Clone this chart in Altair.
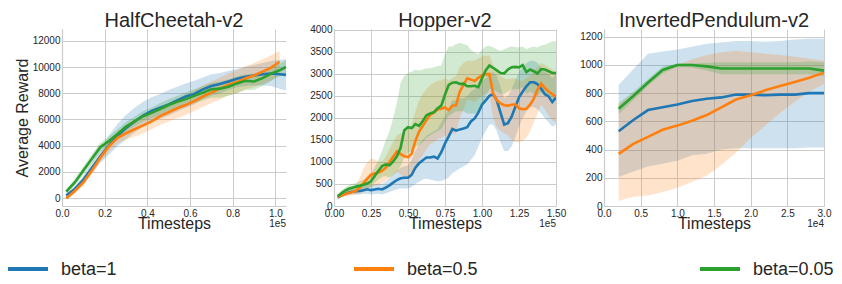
import altair as alt
import pandas as pd

FONT = "Liberation Sans"
TXT = "#262626"
SERIES = ["beta=1", "beta=0.5", "beta=0.05"]
COLORS = ["#1f77b4", "#ff7f0e", "#2ca02c"]

# ---------------- HalfCheetah-v2 ----------------
HC_T = [2000, 6000, 10000, 14000, 18000, 22000, 26000, 30000, 34000, 38000, 42000, 46000, 50000,
        54000, 58000, 62000, 66000, 70000, 74000, 78000, 82000, 86000, 90000, 94000, 98000, 102000, 105000]
HC_B_MEAN = [200, 700, 1400, 2300, 3200, 4000, 4750, 5350, 5850, 6300, 6650, 6900, 7150, 7450, 7750, 7950,
             8300, 8550, 8700, 8900, 9100, 9250, 9350, 9450, 9500, 9450, 9400]
HC_B_LO = [50, 500, 1100, 1900, 2700, 3300, 3950, 4500, 5000, 5450, 5800, 6050, 6300, 6600, 6900, 7150,
           7550, 7800, 8000, 8250, 8450, 8550, 8600, 8600, 8550, 8350, 8200]
HC_B_HI = [350, 900, 1700, 2700, 3800, 4800, 5650, 6350, 6900, 7350, 7700, 7950, 8250, 8500, 8750, 8950,
           9200, 9450, 9550, 9700, 9850, 10000, 10150, 10300, 10450, 10550, 10600]
HC_O_MEAN = [0, 550, 1200, 2100, 3100, 3950, 4600, 4950, 5250, 5550, 5850, 6250, 6550, 6850, 7100, 7400,
             7750, 8050, 8350, 8650, 8850, 9150, 9350, 9650, 9950, 10400]
HC_O_LO = [-150, 350, 950, 1800, 2750, 3550, 4150, 4450, 4700, 4950, 5250, 5600, 5850, 6100, 6350, 6650,
           6950, 7250, 7500, 7850, 8000, 8300, 8450, 8700, 8950, 9400]
HC_O_HI = [150, 750, 1450, 2400, 3450, 4350, 5050, 5450, 5800, 6150, 6500, 6900, 7250, 7600, 7900, 8200,
           8600, 8900, 9200, 9500, 9750, 10050, 10300, 10600, 10900, 11200]
HC_G_MEAN = [500, 1200, 2100, 3000, 3900, 4350, 4900, 5450, 5850, 6250, 6500, 6800, 7100, 7350, 7550, 7800,
             8050, 8300, 8350, 8500, 8750, 8950, 8900, 9150, 9500, 9750, 10000]
HC_G_LO = [300, 950, 1800, 2650, 3550, 4000, 4550, 5100, 5500, 5850, 6100, 6350, 6650, 6850, 7000, 7250,
           7450, 7650, 7650, 7800, 8000, 8250, 8250, 8550, 8950, 9300, 9500]
HC_G_HI = [700, 1450, 2400, 3350, 4250, 4700, 5250, 5800, 6200, 6650, 6900, 7250, 7550, 7800, 8050, 8300,
           8550, 8800, 8900, 9050, 9300, 9450, 9500, 9700, 10000, 10250, 10550]

# ---------------- Hopper-v2 ----------------
HO_T = [2500, 5000, 7500, 10000, 12500, 15000, 17500, 20000, 22500, 25000, 27500, 30000, 32500, 35000,
        37500, 40000, 42500, 45000, 47500, 50000, 52500, 55000, 57500, 60000, 62500, 65000, 67500, 70000,
        72500, 75000, 77500, 80000, 82500, 85000, 87500, 90000, 92500, 95000, 97500, 100000, 102500,
        105000, 107500, 110000, 112500, 115000, 117500, 120000, 122500, 125000, 127500, 130000, 132500,
        135000, 137500, 140000, 142500, 145000, 147500, 150000]
HO_B_MEAN = [190, 240, 275, 305, 325, 335, 340, 360, 380, 360, 375, 390, 375, 420, 470, 530, 590, 630, 640,
             640, 710, 870, 970, 1040, 1100, 1100, 1120, 1080, 1220, 1420, 1580, 1750, 1710, 1740, 1760,
             1790, 1920, 1990, 2120, 2300, 2400, 2500, 2540, 2400, 2120, 1850, 1880, 2030, 2250, 2470, 2600,
             2720, 2810, 2810, 2770, 2660, 2540, 2490, 2360, 2470]
HO_B_LO = [160, 200, 230, 250, 260, 260, 260, 270, 280, 260, 270, 280, 260, 290, 320, 350, 380, 400, 400,
           400, 430, 500, 550, 600, 620, 600, 580, 560, 570, 600, 650, 750, 800, 850, 900, 950, 1050, 1150,
           1350, 1550, 1700, 1850, 1850, 1700, 1450, 1250, 1250, 1350, 1550, 1800, 2000, 2150, 2250, 2250,
           2200, 2100, 2000, 1900, 1800, 1850]
HO_B_HI = [210, 280, 320, 360, 390, 410, 420, 450, 480, 470, 490, 510, 500, 560, 630, 720, 800, 870, 900,
           920, 1050, 1250, 1400, 1500, 1600, 1650, 1700, 1750, 1900, 2050, 2200, 2400, 2400, 2450, 2450,
           2500, 2600, 2650, 2750, 2850, 2900, 3000, 3050, 2950, 2700, 2450, 2500, 2650, 2850, 3050, 3150,
           3250, 3300, 3300, 3250, 3150, 3050, 3000, 2900, 3000]
HO_O_MEAN = [200, 240, 270, 295, 320, 350, 420, 520, 620, 710, 740, 760, 800, 870, 1000, 1120, 1240, 1180,
             1130, 1110, 1190, 1480, 1690, 1820, 1950, 2070, 2120, 2190, 2210, 2240, 2180, 2280, 2290, 2600,
             2750, 2900, 2870, 2840, 2910, 2970, 2990, 3000, 2560, 2400, 2330, 2290, 2280, 2300, 2310, 2220,
             2200, 2210, 2300, 2440, 2640, 2780, 2680, 2600, 2540, 2480]
HO_O_LO = [170, 200, 220, 240, 250, 260, 280, 320, 380, 430, 460, 480, 520, 580, 650, 720, 780, 720, 650,
           620, 650, 850, 1050, 1150, 1300, 1400, 1450, 1520, 1550, 1600, 1550, 1650, 1650, 2000, 2200, 2400,
           2400, 2350, 2450, 2500, 2550, 2550, 2000, 1800, 1700, 1650, 1600, 1500, 1450, 1450, 1480, 1550,
           1700, 1900, 2100, 2300, 2200, 2050, 1950, 1900]
HO_O_HI = [230, 290, 330, 370, 410, 480, 650, 850, 1000, 1080, 1060, 1000, 1020, 1120, 1300, 1450, 1600,
           1650, 1700, 1750, 1850, 2150, 2400, 2550, 2650, 2750, 2800, 2850, 2850, 2900, 2850, 2900, 2950,
           3150, 3250, 3300, 3300, 3300, 3350, 3400, 3420, 3420, 3200, 3050, 2950, 2900, 2880, 2900, 2900,
           2850, 2850, 2900, 2950, 3050, 3150, 3250, 3200, 3150, 3100, 3050]
HO_G_MEAN = [220, 290, 350, 390, 415, 440, 460, 485, 510, 560, 680, 800, 905, 945, 925, 1010, 1130, 1320,
             1720, 1790, 1770, 1860, 1820, 1930, 2060, 2100, 2130, 2220, 2280, 2530, 2750, 2800, 2810, 2770,
             2780, 2720, 2720, 2730, 2700, 2900, 3080, 3190, 3140, 3080, 3020, 3010, 3100, 3150, 3160, 3150,
             3200, 3040, 3100, 3060, 3010, 3110, 3100, 3060, 3020, 3020]
HO_G_LO = [170, 230, 280, 310, 330, 350, 370, 390, 410, 440, 520, 600, 660, 680, 640, 700, 780, 900, 1100,
           1200, 1250, 1350, 1380, 1450, 1550, 1600, 1650, 1700, 1750, 1900, 2050, 2100, 2150, 2150, 2150,
           2100, 2100, 2100, 2100, 2300, 2500, 2650, 2650, 2600, 2550, 2550, 2600, 2650, 2650, 2650, 2700,
           2550, 2600, 2550, 2500, 2580, 2560, 2500, 2450, 2450]
HO_G_HI = [260, 350, 420, 470, 500, 530, 560, 600, 650, 720, 880, 1050, 1250, 1500, 1700, 2000, 2350, 2800,
           2950, 3020, 3050, 3100, 3080, 3100, 3130, 3130, 3150, 3180, 3190, 3450, 3620, 3620, 3680, 3700,
           3680, 3650, 3550, 3480, 3450, 3550, 3620, 3640, 3600, 3560, 3520, 3560, 3600, 3620, 3610, 3600,
           3620, 3560, 3600, 3620, 3600, 3650, 3660, 3700, 3740, 3740]

# ---------------- InvertedPendulum-v2 ----------------
IP_T = [2000, 4000, 6000, 8000, 10000, 12000, 14000, 16000, 18000, 20000, 22000, 24000, 26000, 28000, 30000]
IP_B_MEAN = [530, 610, 680, 700, 720, 745, 760, 770, 790, 790, 785, 790, 790, 800, 800]
IP_B_LO = [205, 245, 280, 300, 320, 360, 370, 400, 410, 410, 410, 410, 410, 415, 415]
IP_B_HI = [860, 970, 1080, 1095, 1110, 1130, 1150, 1160, 1170, 1170, 1165, 1170, 1180, 1185, 1185]
IP_O_MEAN = [370, 440, 490, 540, 570, 605, 645, 700, 755, 785, 820, 850, 880, 910, 945]
IP_O_LO = [37, 65, 75, 100, 130, 170, 215, 290, 380, 480, 570, 660, 740, 810, 865]
IP_O_HI = [720, 800, 880, 950, 1000, 1040, 1070, 1090, 1100, 1090, 1080, 1070, 1060, 1045, 1030]
IP_G_MEAN = [690, 780, 875, 965, 1000, 1000, 990, 975, 975, 975, 975, 975, 975, 975, 960]
IP_G_LO = [650, 750, 850, 940, 985, 980, 960, 935, 935, 935, 935, 935, 935, 935, 920]
IP_G_HI = [730, 810, 900, 990, 1010, 1010, 1015, 1020, 1020, 1020, 1020, 1020, 1020, 1025, 1020]

HC_XTICKS = [0, 20000, 40000, 60000, 80000, 100000]
HO_XTICKS = [0, 25000, 50000, 75000, 100000, 125000, 150000]
IP_XTICKS = [0, 5000, 10000, 15000, 20000, 25000, 30000]
HC_YTICKS = [0, 2000, 4000, 6000, 8000, 10000, 12000]
HO_YTICKS = [0, 500, 1000, 1500, 2000, 2500, 3000, 3500, 4000]
IP_YTICKS = [0, 200, 400, 600, 800, 1000, 1200]

PLOT_H = 177


def build_df(t, groups):
    rows = []
    for name, (m, lo, hi) in zip(SERIES, groups):
        for i in range(len(m)):
            rows.append({"t": t[i], "series": name, "mean": m[i], "lo": lo[i], "hi": hi[i]})
    return pd.DataFrame(rows)


cscale = alt.Scale(domain=SERIES, range=COLORS)


def panel(df, title, width, height, xdom, xticks, xdiv, xfmt, xexp, ydom, yticks, ytitle, with_legend=False):
    xscale = alt.Scale(domain=xdom, nice=False, zero=False)
    xaxis = alt.Axis(values=xticks, title="Timesteps",
                     labelExpr=f"format(datum.value / {xdiv}, '{xfmt}')")
    yscale = alt.Scale(domain=ydom, nice=False, zero=False)
    if ytitle:
        yaxis = alt.Axis(values=yticks, title=ytitle, format="d")
    else:
        yaxis = alt.Axis(values=yticks, title=None, format="d")
    base = alt.Chart(df)
    band = base.mark_area(opacity=0.22, clip=True).encode(
        x=alt.X("t:Q", scale=xscale, axis=xaxis),
        y=alt.Y("lo:Q", scale=yscale, axis=yaxis),
        y2="hi:Q",
        fill=alt.Fill("series:N", scale=cscale, legend=None),
        detail="series:N",
    )
    line = base.mark_line(strokeWidth=2.6, clip=True).encode(
        x=alt.X("t:Q", scale=xscale, axis=None if with_legend else xaxis),
        y=alt.Y("mean:Q", scale=yscale, axis=yaxis),
        color=alt.Color("series:N", scale=cscale, legend=None),
    )
    exp = alt.Chart(pd.DataFrame({"txt": [xexp]})).mark_text(
        align="right", baseline="middle", font=FONT, fontSize=10, color=TXT
    ).encode(x=alt.value(width), y=alt.value(height + 18), text="txt:N")
    ttl = alt.Chart(pd.DataFrame({"txt": [title]})).mark_text(
        align="center", baseline="alphabetic", font=FONT, fontSize=20, color=TXT
    ).encode(x=alt.value(width / 2), y=alt.value(-2), text="txt:N")
    layers = [band, line, exp, ttl]
    if with_legend:
        leg_df = pd.DataFrame({"series": SERIES})
        leg_x = alt.X("series:N", sort=SERIES, axis=None,
                      scale=alt.Scale(type="point", domain=SERIES, range=[-34, 658], padding=0))
        leg_sym = alt.Chart(leg_df).mark_point(
            shape="M-1,0H1", size=1600, filled=False, strokeWidth=4, opacity=1
        ).encode(x=leg_x, y=alt.value(height + 63),
                 color=alt.Color("series:N", scale=cscale, legend=None))
        leg_txt = alt.Chart(leg_df).mark_text(
            align="left", baseline="middle", dx=33, font=FONT, fontSize=18, color=TXT
        ).encode(x=leg_x, y=alt.value(height + 64), text="series:N")
        layers += [leg_sym, leg_txt]
    chart = alt.layer(*layers).properties(width=width, height=height)
    if with_legend:
        chart = chart.resolve_scale(x="independent")
    return chart


hc = panel(build_df(HC_T, [(HC_B_MEAN, HC_B_LO, HC_B_HI), (HC_O_MEAN, HC_O_LO, HC_O_HI), (HC_G_MEAN, HC_G_LO, HC_G_HI)]),
           "HalfCheetah-v2", 224, PLOT_H, [0, 105000], HC_XTICKS, 100000, ".1f", "1e5",
           [-600, 12900], HC_YTICKS, "Average Reward", with_legend=True)
ho = panel(build_df(HO_T, [(HO_B_MEAN, HO_B_LO, HO_B_HI), (HO_O_MEAN, HO_O_LO, HO_O_HI), (HO_G_MEAN, HO_G_LO, HO_G_HI)]),
           "Hopper-v2", 222, PLOT_H, [0, 150000], HO_XTICKS, 100000, ".2f", "1e5",
           [0, 4020], HO_YTICKS, None)
ip = panel(build_df(IP_T, [(IP_B_MEAN, IP_B_LO, IP_B_HI), (IP_O_MEAN, IP_O_LO, IP_O_HI), (IP_G_MEAN, IP_G_LO, IP_G_HI)]),
           "InvertedPendulum-v2", 220, PLOT_H, [0, 30000], IP_XTICKS, 10000, ".1f", "1e4",
           [0, 1255], IP_YTICKS, None)

chart = alt.HConcatChart(hconcat=[hc, ho, ip], spacing=48, bounds="flush").resolve_scale(
    fill="shared", color="shared"
).properties(
    padding={"left": -8, "top": 3, "right": 0, "bottom": 0}
).configure_axis(
    labelFont=FONT, labelFontSize=10, labelColor=TXT,
    labelFlush=False, labelOverlap=False,
    titleFont=FONT, titleFontSize=16, titleColor=TXT, titleFontWeight="normal",
    gridColor="#cccccc", gridWidth=1, domainColor="#cccccc", domainWidth=1.2, ticks=False,
).configure_axisX(labelPadding=2, titlePadding=-3).configure_axisY(labelPadding=2, titlePadding=2).configure_view(stroke=None)

chart.save("out.html", embed_options={"renderer": "svg", "actions": False})
